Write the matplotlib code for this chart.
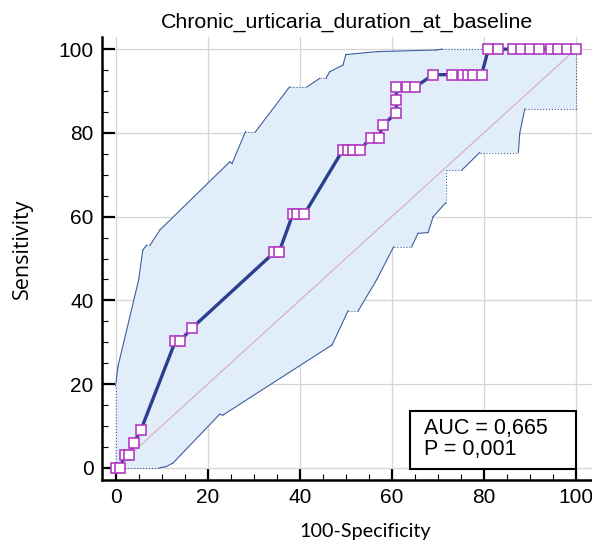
import matplotlib.pyplot as plt
from matplotlib.patches import Rectangle
from matplotlib.ticker import MultipleLocator

# ROC curve points (100-Specificity, Sensitivity)
roc_fpr = [0, 1, 2, 3, 4, 5.5, 13, 14, 16.5, 34.5, 35.5, 38.5, 39.5, 41,
           49.3, 50.5, 51.6, 53, 55.4, 57.2, 58, 61, 61, 61, 63.2, 65,
           69, 73, 75.5, 76.6, 77.7, 79.5,
           81, 83, 86.4, 88, 90, 92, 94.7, 96.2, 98, 100]
roc_tpr = [0, 0, 3.03, 3.03, 6.06, 9.09, 30.3, 30.3, 33.3, 51.5, 51.5, 60.6, 60.6, 60.6,
           75.8, 75.8, 75.8, 75.8, 78.8, 78.8, 81.8, 84.8, 87.9, 90.9, 90.9, 90.9,
           93.9, 93.9, 93.9, 93.9, 93.9, 93.9,
           100, 100, 100, 100, 100, 100, 100, 100, 100, 100]

# confidence band boundaries
upper_x = [0, 0, 0.5, 5, 5.9, 6.7, 7.5, 9.6, 24.8, 25.3, 28.2, 30.4, 37.8, 41.6,
           44.3, 45.7, 46.5, 49.4, 50, 56.7, 69.7, 71, 100]
upper_y = [0, 19.6, 24.2, 44.9, 52, 53.2, 53.2, 56.8, 73.1, 72.7, 80.3, 80.3, 91, 91,
           93, 93, 94.6, 96.2, 98.7, 99.4, 99.8, 100, 100]
lower_x = [0, 9.5, 11, 12.5, 22.6, 23.3, 46.5, 47, 50.5, 52.7, 56.7, 60.4, 64.3,
           65.7, 67.9, 69, 71.7, 71.7, 75.2, 79.1, 87.5, 87.8, 88.9, 100, 100]
lower_y = [0, 0, 0.3, 1.2, 12.8, 12.6, 29, 29.3, 37.5, 37.5, 44.9, 52.8, 52.8,
           56, 56.2, 60, 63.3, 71.1, 71.1, 75.3, 75.3, 79.9, 85.7, 85.7, 100]

auc_text = "AUC = 0,665\nP = 0,001"

fig = plt.figure(figsize=(5.92, 5.44), dpi=100)
ax = fig.add_axes([0.172, 0.1176, 0.828, 0.8144])

# shaded band
poly_x = upper_x + lower_x[::-1]
poly_y = upper_y + lower_y[::-1]
ax.fill(poly_x, poly_y, color='#e1eef9', zorder=1, lw=0)

# band edges: straight runs dotted, slopes solid
for bx, by in [(upper_x, upper_y), (lower_x, lower_y)]:
    for i in range(len(bx) - 1):
        flat = bx[i] == bx[i + 1] or by[i] == by[i + 1]
        ax.plot(bx[i:i + 2], by[i:i + 2], color='#3f5f9f', lw=0.8,
                ls=':' if flat else '-', zorder=2)

# reference diagonal
ax.plot([0, 100], [0, 100], color='#d9a9b9', lw=0.8, zorder=2)

# ROC curve
ax.plot(roc_fpr, roc_tpr, color='#2b3e90', lw=2.4, zorder=3)
ax.plot(roc_fpr, roc_tpr, ls='none', marker='s', ms=7, mfc='white',
        mec='#b33cc2', mew=1.2, zorder=4)

# AUC box
ax.add_patch(Rectangle((63.9, -0.2), 36.2, 13.9, fill=True, fc='white',
                       ec='black', lw=1.5, zorder=5))
ax.text(67, 7.0, auc_text, fontsize=15.5, family='Liberation Sans',
        va='center', ha='left', linespacing=1.0, zorder=6)

ax.set_xlim(-3.0, 103.5)
ax.set_ylim(-2.9, 102.9)
ax.xaxis.set_major_locator(MultipleLocator(20))
ax.yaxis.set_major_locator(MultipleLocator(20))
ax.xaxis.set_minor_locator(MultipleLocator(5))
ax.yaxis.set_minor_locator(MultipleLocator(5))
ax.grid(True, which='major', color='#d6d6d6', lw=0.9, zorder=0)
ax.set_axisbelow(True)

for s in ['top', 'right']:
    ax.spines[s].set_visible(False)
for s in ['left', 'bottom']:
    ax.spines[s].set_linewidth(1.8)
ax.tick_params(which='major', direction='in', length=9, width=1.6,
               labelsize=15, pad=6)
ax.tick_params(which='minor', direction='in', length=4.5, width=0.8)
for lab in ax.get_xticklabels() + ax.get_yticklabels():
    lab.set_family('Liberation Sans')

ax.set_title("Chronic_urticaria_duration_at_baseline", fontsize=15.4,
             family='Liberation Sans', pad=7)
ax.set_xlabel("100-Specificity", fontsize=14.2, family='Lato')
ax.set_ylabel("Sensitivity", fontsize=15.5, family='Open Sans')
ax.xaxis.set_label_coords(0.537, -0.097)
ax.yaxis.set_label_coords(-0.141, 0.521)

fig.savefig('out.png', dpi=100)
